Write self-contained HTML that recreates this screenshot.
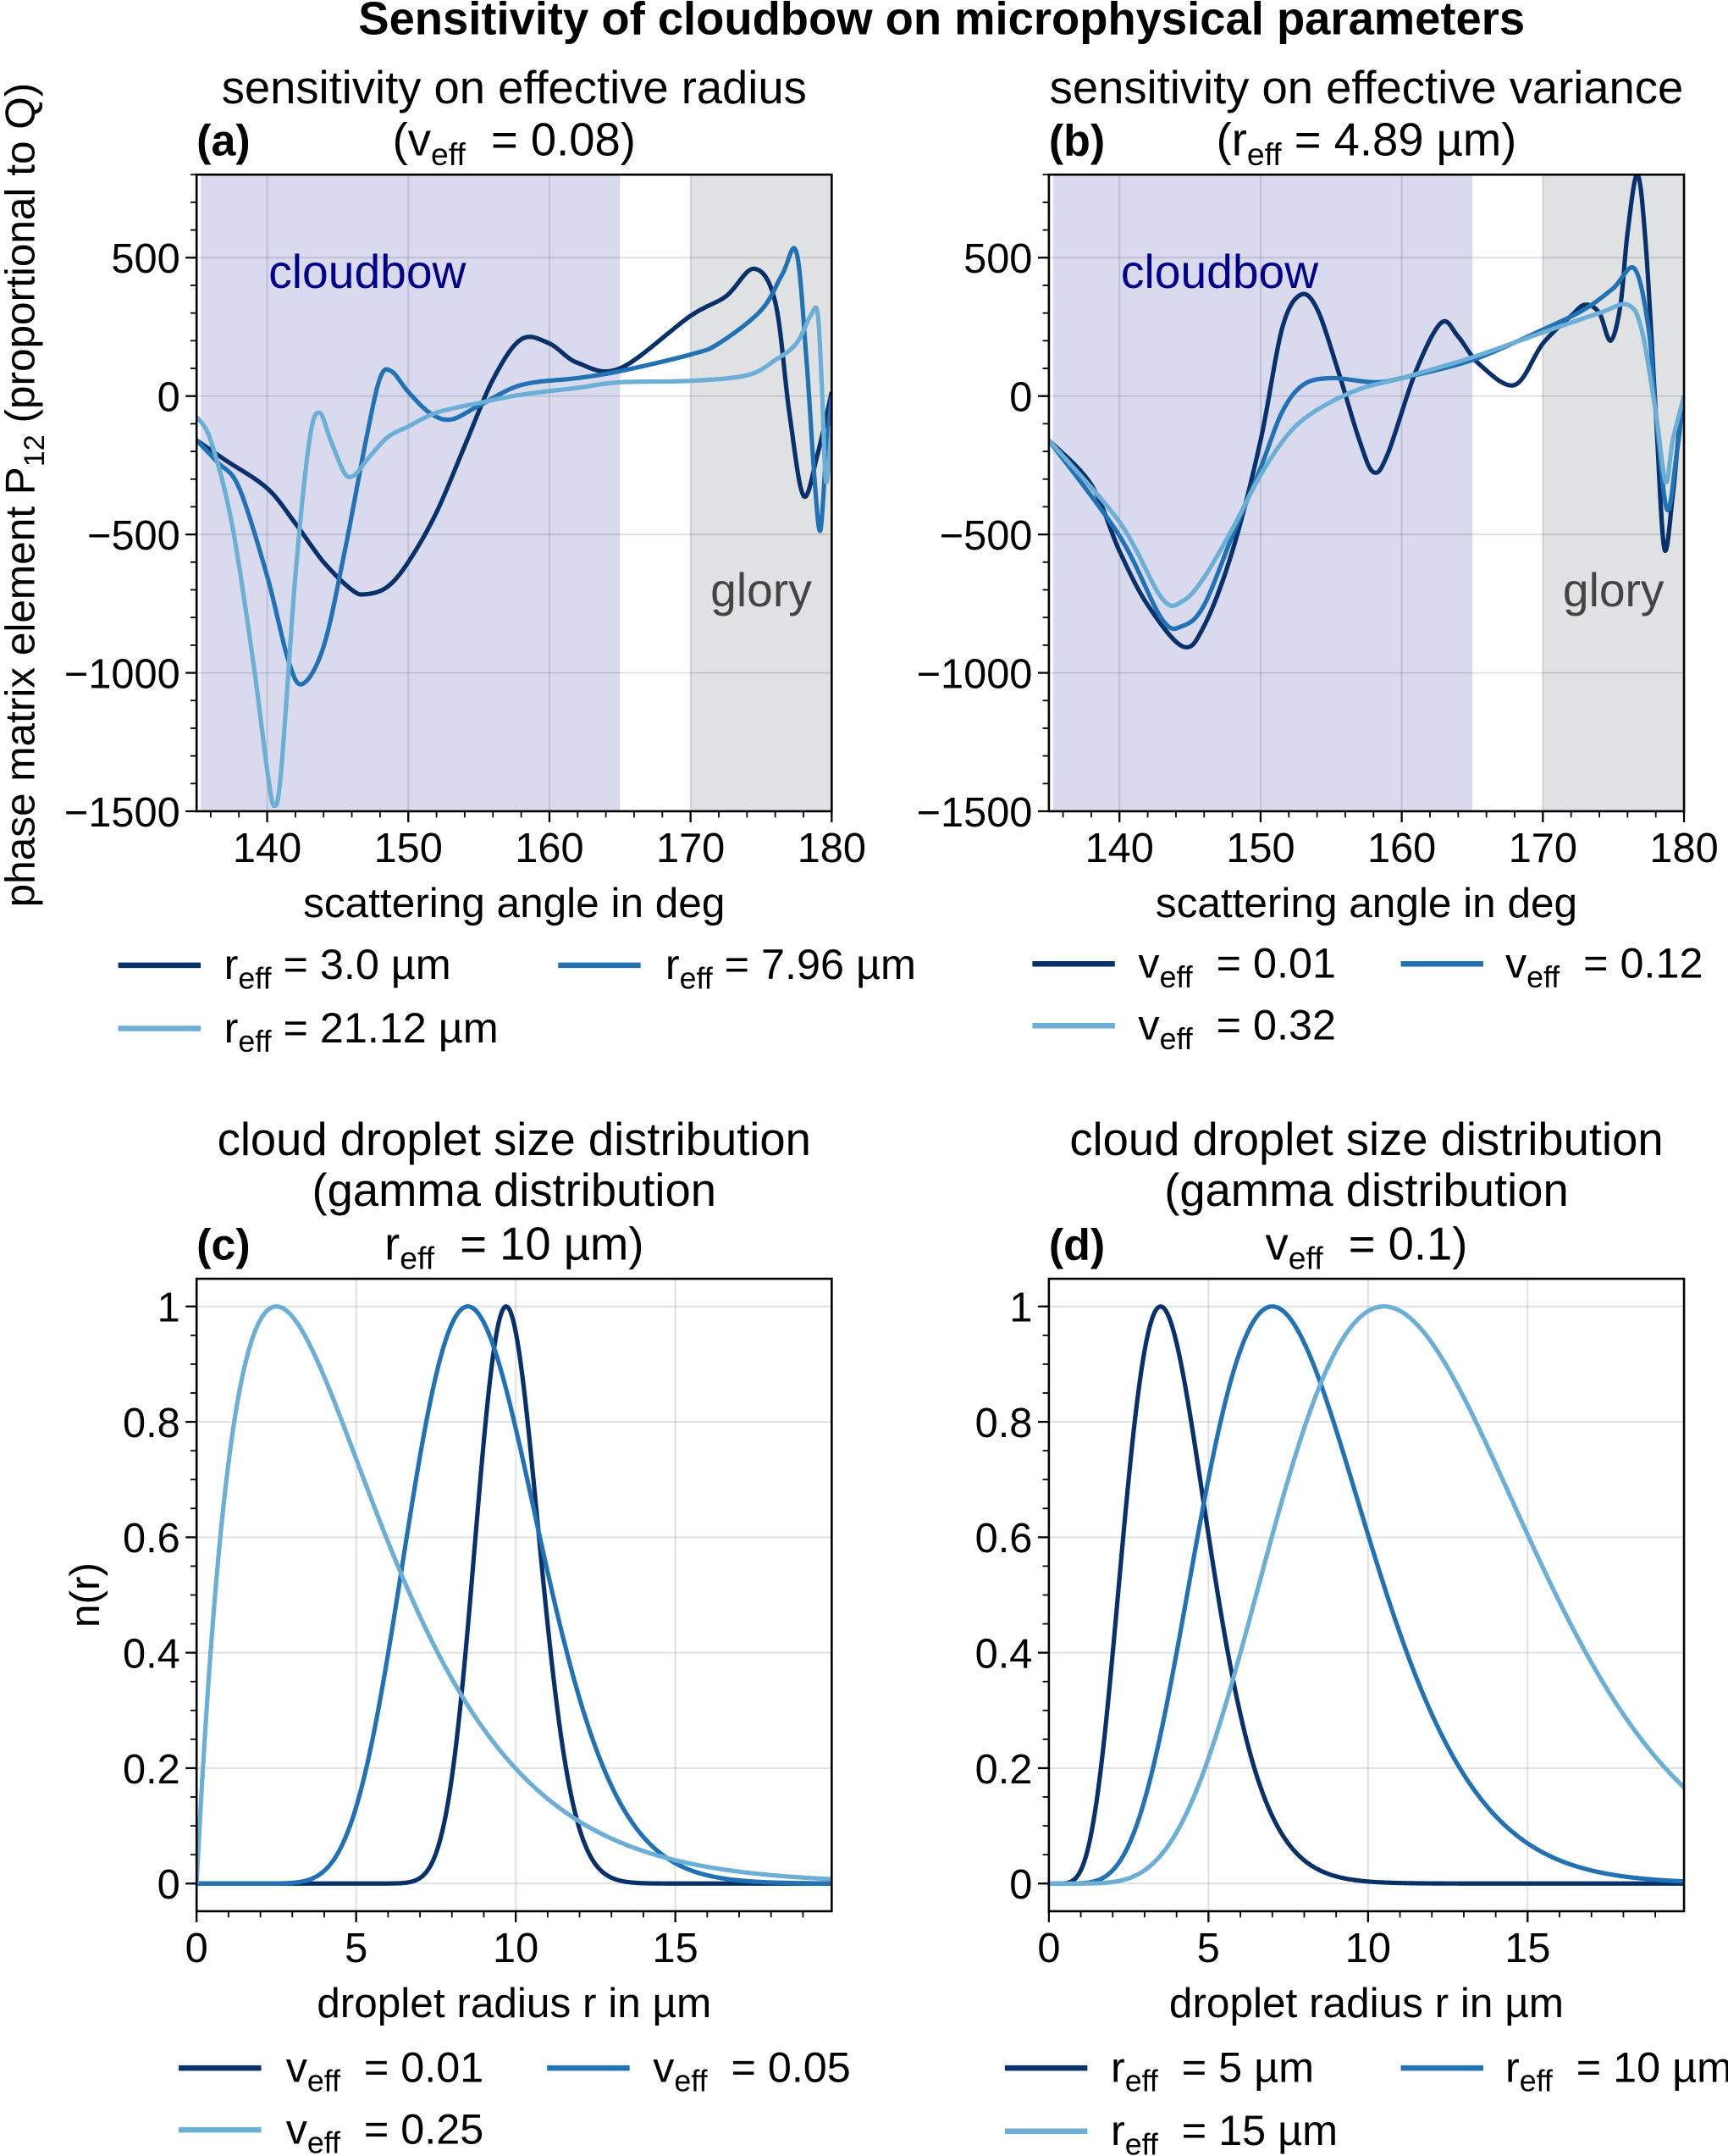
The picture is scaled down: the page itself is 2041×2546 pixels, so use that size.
<!DOCTYPE html>
<html><head><meta charset="utf-8">
<style>
html,body{margin:0;padding:0;background:#fff;}
svg{display:block;font-family:"Liberation Sans",Arial,sans-serif;}
svg text{white-space:pre;}
</style></head>
<body>
<svg id="fig" width="2041" height="2546" viewBox="0 0 1257 1568" xmlns="http://www.w3.org/2000/svg">
<defs>
<clipPath id="clipA"><rect x="143" y="127" width="462" height="463"/></clipPath>
<clipPath id="clipB"><rect x="763" y="127" width="462" height="463"/></clipPath>
<clipPath id="clipC"><rect x="143" y="930" width="462" height="460"/></clipPath>
<clipPath id="clipD"><rect x="763" y="930" width="462" height="460"/></clipPath>
</defs>
<text x="685" y="25" font-size="33.5" font-weight="bold" text-anchor="middle">Sensitivity of cloudbow on microphysical parameters</text>

<text transform="translate(25,360) rotate(-90)" font-size="30.5" text-anchor="middle">phase matrix element P<tspan font-size="21" dy="7">12</tspan><tspan dy="-7"> (proportional to Q)</tspan></text>
<text transform="translate(72,1160) rotate(-90)" font-size="30.5" text-anchor="middle">n(r)</text>

<text x="374" y="75" font-size="33.5" text-anchor="middle">sensitivity on effective radius</text>
<text x="374" y="113" font-size="33.5" text-anchor="middle">(v<tspan font-size="23" dy="7">eff</tspan><tspan dy="-7">  = 0.08)</tspan></text>
<text x="143" y="113" font-size="32" font-weight="bold">(a)</text>
<text x="994" y="75" font-size="33.5" text-anchor="middle">sensitivity on effective variance</text>
<text x="994" y="113" font-size="33.5" text-anchor="middle">(r<tspan font-size="23" dy="7">eff</tspan><tspan dy="-7"> = 4.89 µm)</tspan></text>
<text x="763" y="113" font-size="32" font-weight="bold">(b)</text>

<text x="374" y="840" font-size="33.5" text-anchor="middle">cloud droplet size distribution</text>
<text x="374" y="877" font-size="33.5" text-anchor="middle">(gamma distribution</text>
<text x="374" y="916" font-size="33.5" text-anchor="middle">r<tspan font-size="23" dy="7">eff</tspan><tspan dy="-7">  = 10 µm)</tspan></text>
<text x="143" y="916" font-size="32" font-weight="bold">(c)</text>
<text x="994" y="840" font-size="33.5" text-anchor="middle">cloud droplet size distribution</text>
<text x="994" y="877" font-size="33.5" text-anchor="middle">(gamma distribution</text>
<text x="994" y="916" font-size="33.5" text-anchor="middle">v<tspan font-size="23" dy="7">eff</tspan><tspan dy="-7">  = 0.1)</tspan></text>
<text x="763" y="916" font-size="32" font-weight="bold">(d)</text>

<g id="panels"></g>

<g font-size="31">
<line x1="86" y1="702" x2="146" y2="702" stroke="#08306b" stroke-width="4"/>
<text x="163" y="712">r<tspan font-size="22" dy="7">eff</tspan><tspan dy="-7"> = 3.0 µm</tspan></text>
<line x1="406" y1="702" x2="466" y2="702" stroke="#2171b5" stroke-width="4"/>
<text x="484" y="712">r<tspan font-size="22" dy="7">eff</tspan><tspan dy="-7"> = 7.96 µm</tspan></text>
<line x1="86" y1="748" x2="146" y2="748" stroke="#6baed6" stroke-width="4"/>
<text x="163" y="758">r<tspan font-size="22" dy="7">eff</tspan><tspan dy="-7"> = 21.12 µm</tspan></text>
</g>
<g font-size="31">
<line x1="751" y1="701" x2="811" y2="701" stroke="#08306b" stroke-width="4"/>
<text x="828" y="711">v<tspan font-size="22" dy="7">eff</tspan><tspan dy="-7">  = 0.01</tspan></text>
<line x1="1019" y1="701" x2="1079" y2="701" stroke="#2171b5" stroke-width="4"/>
<text x="1095" y="711">v<tspan font-size="22" dy="7">eff</tspan><tspan dy="-7">  = 0.12</tspan></text>
<line x1="751" y1="746" x2="811" y2="746" stroke="#6baed6" stroke-width="4"/>
<text x="828" y="756">v<tspan font-size="22" dy="7">eff</tspan><tspan dy="-7">  = 0.32</tspan></text>
</g>
<g font-size="31">
<line x1="130" y1="1504" x2="190" y2="1504" stroke="#08306b" stroke-width="4"/>
<text x="208" y="1514">v<tspan font-size="22" dy="7">eff</tspan><tspan dy="-7">  = 0.01</tspan></text>
<line x1="398" y1="1504" x2="458" y2="1504" stroke="#2171b5" stroke-width="4"/>
<text x="475" y="1514">v<tspan font-size="22" dy="7">eff</tspan><tspan dy="-7">  = 0.05</tspan></text>
<line x1="130" y1="1549" x2="190" y2="1549" stroke="#6baed6" stroke-width="4"/>
<text x="208" y="1559">v<tspan font-size="22" dy="7">eff</tspan><tspan dy="-7">  = 0.25</tspan></text>
</g>
<g font-size="31">
<line x1="731" y1="1504" x2="791" y2="1504" stroke="#08306b" stroke-width="4"/>
<text x="808" y="1514">r<tspan font-size="22" dy="7">eff</tspan><tspan dy="-7">  = 5 µm</tspan></text>
<line x1="1019" y1="1504" x2="1079" y2="1504" stroke="#2171b5" stroke-width="4"/>
<text x="1095" y="1514">r<tspan font-size="22" dy="7">eff</tspan><tspan dy="-7">  = 10 µm</tspan></text>
<line x1="731" y1="1550" x2="791" y2="1550" stroke="#6baed6" stroke-width="4"/>
<text x="808" y="1560">r<tspan font-size="22" dy="7">eff</tspan><tspan dy="-7">  = 15 µm</tspan></text>
</g>
</svg>
<script>
// ---- Panel (a) data: P12 vs scattering angle for r_eff series ----
const aAngles1 = [135,137,140,142,144,146,147,148.5,150,152,154,156,158,160,162,165,170,172.5,174.5,176,177,178,179,180];
const aVals1   = [-160,-230,-333,-460,-600,-700,-716,-690,-600,-420,-180,60,205,190,120,100,290,360,460,340,-60,-360,-210,15];
const aAngles2 = [135,136.5,138,140,141.5,142.5,144,145.5,147,148,148.8,150,151.5,153,155,158,162,165,170,172,175,176.5,177.5,178.2,178.8,179.2,179.6,180];
const aVals2   = [-160,-240,-330,-650,-955,-1040,-905,-560,-160,65,90,15,-60,-85,-35,40,65,90,150,190,310,440,520,140,-310,-485,-210,0];
const aAngles3 = [135,136,137.5,139,140,140.5,141,142,143,143.7,144.5,145.5,146.2,147,148.5,150,152,155,158,162,165,170,174,176,177.5,178.5,179,179.3,179.6,180];
const aVals3   = [-75,-160,-460,-955,-1350,-1480,-1350,-650,-160,-60,-160,-280,-285,-235,-150,-110,-60,-25,5,30,50,55,75,130,190,290,300,40,-310,-110];
// ---- Panel (b) data: P12 vs scattering angle for v_eff series ----
const bAngles1 = [135,138,140,142,144.5,146,148,150,151.5,152.8,154,155.5,157,158,159,161,162.8,164,165.5,168,170,172,173,174,174.8,175.5,176,176.7,177.3,178,178.6,179.2,179.6,180];
const bVals1   = [-160,-320,-560,-755,-905,-830,-560,-160,240,365,315,90,-160,-275,-210,90,265,215,115,40,190,290,330,300,200,330,590,800,540,-60,-550,-360,-150,0];
const bAngles2 = [135,140,143,144.5,146,148,150,151.5,153,155,158,160,165,170,173,175,176.5,177.5,178,178.8,179.5,180];
const bVals2   = [-160,-505,-805,-830,-755,-505,-260,-60,40,65,50,65,130,240,315,390,460,240,-60,-410,-200,0];
const bAngles3 = [135,140,143,144.5,146,148,150,152,154,157,160,165,170,174,176,177,178,178.7,179.2,180];
const bVals3   = [-160,-455,-730,-740,-655,-480,-285,-135,-50,25,65,140,230,300,330,240,-60,-310,-160,0];
// ---- Panels (c),(d): gamma size-distribution parameters ----
const cReff = [10,10,10];
const cVeff = [0.01,0.05,0.25];
const dReff = [5,10,15];
const dVeff = [0.1,0.1,0.1];
// ---- tick labels ----
const angleTicks = [140,150,160,170,180];
const pTicks = [500,0,-500,-1000,-1500];
const rTicks = [0,5,10,15];
const nTicks = [0,0.2,0.4,0.6,0.8,1];
const nTickLabels = ["0","0.2","0.4","0.6","0.8","1"];

const colors = ["#08306b","#2171b5","#6baed6"];
const NS = "http://www.w3.org/2000/svg";
const root = document.getElementById('panels');
function el(tag, attrs, parent){const e=document.createElementNS(NS,tag);for(const k in attrs)e.setAttribute(k,attrs[k]);(parent||root).appendChild(e);return e;}
function fmt(v){return v<0?"\u2212"+Math.abs(v):String(v);}

function makeAxes(px,py,w,h,xmin,xmax,ymin,ymax){
  return {px,py,w,h,
    X:v=>px+(v-xmin)/(xmax-xmin)*w,
    Y:v=>py+h-(v-ymin)/(ymax-ymin)*h, xmin,xmax,ymin,ymax};
}
function catmull(pts){
  let d="M"+pts[0][0].toFixed(2)+","+pts[0][1].toFixed(2);
  for(let i=0;i<pts.length-1;i++){
    const p0=pts[Math.max(0,i-1)],p1=pts[i],p2=pts[i+1],p3=pts[Math.min(pts.length-1,i+2)];
    const c1=[p1[0]+(p2[0]-p0[0])/6,p1[1]+(p2[1]-p0[1])/6];
    const c2=[p2[0]-(p3[0]-p1[0])/6,p2[1]-(p3[1]-p1[1])/6];
    d+=` C${c1[0].toFixed(2)},${c1[1].toFixed(2)} ${c2[0].toFixed(2)},${c2[1].toFixed(2)} ${p2[0].toFixed(2)},${p2[1].toFixed(2)}`;
  }
  return d;
}
function grid(ax,xt,yt,name){
  const g=el('g',{});
  
  
  xt.forEach(v=>{const x=ax.X(v);if(x>ax.px+1&&x<ax.px+ax.w-1)el('line',{x1:x,x2:x,y1:ax.py,y2:ax.py+ax.h,stroke:'rgba(0,0,0,0.12)','stroke-width':1.2},g);});
  yt.forEach(v=>{const y=ax.Y(v);if(y>ax.py+1&&y<ax.py+ax.h-1)el('line',{x1:ax.px,x2:ax.px+ax.w,y1:y,y2:y,stroke:'rgba(0,0,0,0.12)','stroke-width':1.2},g);});
}
function frame(ax,xt,xlab,yt,ylab,xminor,yminor,name,xtitle){
  const g=el('g',{});
  
  
  el('rect',{x:ax.px,y:ax.py,width:ax.w,height:ax.h,fill:'none',stroke:'#000','stroke-width':1.6},g);
  const yb=ax.py+ax.h;
  xt.forEach((v,i)=>{const x=ax.X(v);el('line',{x1:x,x2:x,y1:yb,y2:yb+8,stroke:'#000','stroke-width':1.4},g);
    const t=el('text',{x:x,y:yb+37,'font-size':30,'text-anchor':'middle'},g);t.textContent=xlab[i];});
  xminor.forEach(v=>{const x=ax.X(v);el('line',{x1:x,x2:x,y1:yb,y2:yb+4.5,stroke:'#000','stroke-width':1.1},g);});
  yt.forEach((v,i)=>{const y=ax.Y(v);el('line',{x1:ax.px,x2:ax.px-8,y1:y,y2:y,stroke:'#000','stroke-width':1.4},g);
    const t=el('text',{x:ax.px-12,y:y+11,'font-size':30,'text-anchor':'end'},g);t.textContent=ylab[i];});
  yminor.forEach(v=>{const y=ax.Y(v);el('line',{x1:ax.px,x2:ax.px-4.5,y1:y,y2:y,stroke:'#000','stroke-width':1.1},g);});
  const t=el('text',{x:ax.px+ax.w/2,y:yb+77,'font-size':30.5,'text-anchor':'middle'},g);t.textContent=xtitle;
}
function range(a,b,s){const r=[];for(let v=a;v<=b+1e-9;v+=s)r.push(+v.toFixed(6));return r;}

function topPanel(px,clip,series,name){
  const ax=makeAxes(px,127,462,463,135,180,-1500,800);
  const sh=el('rect',{x:ax.X(135.3),y:ax.py,width:ax.X(165)-ax.X(135.3),height:ax.h,fill:'#d9daee'});
  
  
  const gl=el('rect',{x:ax.X(170),y:ax.py,width:ax.X(180)-ax.X(170),height:ax.h,fill:'#e0e1e3'});
  
  
  grid(ax,angleTicks,pTicks,name);
  const t1=el('text',{x:ax.X(140.1),y:ax.Y(450)+12,'font-size':34,fill:'#00008b'});t1.textContent='cloudbow';
  
  
  const t2=el('text',{x:ax.X(175.0),y:ax.Y(-700)+12,'font-size':34,fill:'#444','text-anchor':'middle'});t2.textContent='glory';
  
  
  series.forEach((s,i)=>{
    const pts=s[0].map((a,j)=>[ax.X(a),ax.Y(s[1][j])]);
    const p=el('path',{d:catmull(pts),fill:'none',stroke:colors[i],'stroke-width':3.2,'clip-path':`url(#${clip})`,'stroke-linejoin':'round'});
    
    
  });
  frame(ax,angleTicks,angleTicks.map(String),pTicks,pTicks.map(fmt),range(136,180,2),range(-1500,800,100),name,'scattering angle in deg');
}
topPanel(143,'clipA',[[aAngles1,aVals1],[aAngles2,aVals2],[aAngles3,aVals3]],'panel-a');
topPanel(763,'clipB',[[bAngles1,bVals1],[bAngles2,bVals2],[bAngles3,bVals3]],'panel-b');

function gammaN(r,reff,veff){
  const a=(1-3*veff)/veff, b=reff*veff, rm=reff*(1-3*veff);
  if(r<=0)return 0;
  return Math.exp(a*Math.log(r/rm)-(r-rm)/b);
}
function botPanel(px,clip,reffs,veffs,name){
  const ax=makeAxes(px,930,462,460,0,19.9,-0.048,1.048);
  grid(ax,rTicks,nTicks,name);
  reffs.forEach((re,i)=>{
    const pts=[];
    for(let k=0;k<=800;k++){const r=k*20/800;pts.push((k?'L':'M')+ax.X(r).toFixed(2)+','+ax.Y(gammaN(r,re,veffs[i])).toFixed(2));}
    const p=el('path',{d:pts.join(' '),fill:'none',stroke:colors[i],'stroke-width':3.2,'clip-path':`url(#${clip})`,'stroke-linejoin':'round'});
    
    
  });
  frame(ax,rTicks,rTicks.map(String),nTicks,nTickLabels,range(0,19,1),range(0,1.0,0.05),name,'droplet radius r in µm');
}
botPanel(143,'clipC',cReff,cVeff,'panel-c');
botPanel(763,'clipD',dReff,dVeff,'panel-d');
</script>
</body></html>
